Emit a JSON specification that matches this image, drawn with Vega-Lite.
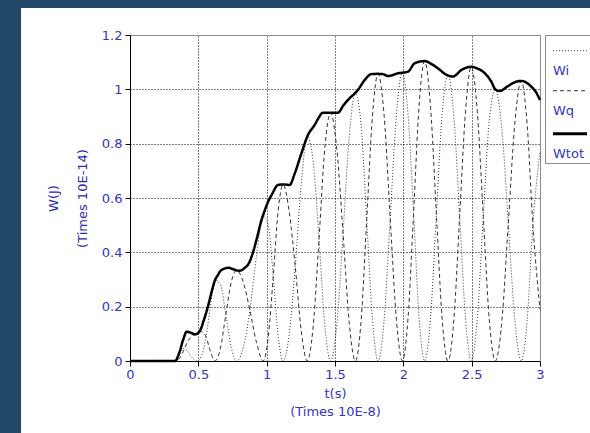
{
  "$schema": "https://vega.github.io/schema/vega-lite/v6.json",
  "width": 569,
  "height": 425,
  "autosize": {"type": "none"},
  "padding": {"left": 21, "top": 8, "right": 0, "bottom": 0},
  "background": "#22486a",
  "config": {
    "view": {"fill": "#ffffff", "stroke": null},
    "font": "DejaVu Sans",
    "legend": {
      "orient": "none",
      "legendX": 524,
      "legendY": 27,
      "padding": 2,
      "strokeColor": "#8c8c8c",
      "fillColor": "#ffffff",
      "symbolType": "M-0.03,-0.81H1.97",
      "symbolSize": 1156,
      "labelOffset": -7,
      "labelBaseline": "top",
      "labelColor": "#3535c0",
      "labelFont": "DejaVu Sans",
      "labelFontSize": 13,
      "rowPadding": 10,
      "titleFontSize": 21,
      "titlePadding": 0
    }
  },
  "datasets": {
    "oscillating": [
      {"t": 0, "W": 0, "series": "Wi"},
      {"t": 0.33, "W": 0, "series": "Wi"},
      {"t": 0.36, "W": 0.022, "series": "Wi"},
      {"t": 0.39, "W": 0.045, "series": "Wi"},
      {"t": 0.42, "W": 0.038, "series": "Wi"},
      {"t": 0.45, "W": 0.015, "series": "Wi"},
      {"t": 0.49, "W": 0, "series": "Wi"},
      {"t": 0.523, "W": 0.019, "series": "Wi"},
      {"t": 0.556, "W": 0.088, "series": "Wi"},
      {"t": 0.589, "W": 0.203, "series": "Wi"},
      {"t": 0.622, "W": 0.298, "series": "Wi"},
      {"t": 0.662, "W": 0.282, "series": "Wi"},
      {"t": 0.701, "W": 0.171, "series": "Wi"},
      {"t": 0.741, "W": 0.05, "series": "Wi"},
      {"t": 0.78, "W": 0, "series": "Wi"},
      {"t": 0.829, "W": 0.05, "series": "Wi"},
      {"t": 0.878, "W": 0.19, "series": "Wi"},
      {"t": 0.926, "W": 0.39, "series": "Wi"},
      {"t": 0.975, "W": 0.535, "series": "Wi"},
      {"t": 1.011, "W": 0.501, "series": "Wi"},
      {"t": 1.048, "W": 0.311, "series": "Wi"},
      {"t": 1.084, "W": 0.095, "series": "Wi"},
      {"t": 1.12, "W": 0, "series": "Wi"},
      {"t": 1.164, "W": 0.095, "series": "Wi"},
      {"t": 1.209, "W": 0.348, "series": "Wi"},
      {"t": 1.253, "W": 0.652, "series": "Wi"},
      {"t": 1.297, "W": 0.825, "series": "Wi"},
      {"t": 1.34, "W": 0.735, "series": "Wi"},
      {"t": 1.383, "W": 0.449, "series": "Wi"},
      {"t": 1.425, "W": 0.133, "series": "Wi"},
      {"t": 1.468, "W": 0, "series": "Wi"},
      {"t": 1.513, "W": 0.133, "series": "Wi"},
      {"t": 1.559, "W": 0.47, "series": "Wi"},
      {"t": 1.604, "W": 0.825, "series": "Wi"},
      {"t": 1.649, "W": 0.988, "series": "Wi"},
      {"t": 1.691, "W": 0.867, "series": "Wi"},
      {"t": 1.732, "W": 0.521, "series": "Wi"},
      {"t": 1.774, "W": 0.154, "series": "Wi"},
      {"t": 1.815, "W": 0, "series": "Wi"},
      {"t": 1.86, "W": 0.154, "series": "Wi"},
      {"t": 1.904, "W": 0.526, "series": "Wi"},
      {"t": 1.949, "W": 0.904, "series": "Wi"},
      {"t": 1.993, "W": 1.062, "series": "Wi"},
      {"t": 2.034, "W": 0.91, "series": "Wi"},
      {"t": 2.075, "W": 0.546, "series": "Wi"},
      {"t": 2.115, "W": 0.161, "series": "Wi"},
      {"t": 2.156, "W": 0, "series": "Wi"},
      {"t": 2.199, "W": 0.16, "series": "Wi"},
      {"t": 2.242, "W": 0.541, "series": "Wi"},
      {"t": 2.284, "W": 0.91, "series": "Wi"},
      {"t": 2.327, "W": 1.052, "series": "Wi"},
      {"t": 2.37, "W": 0.897, "series": "Wi"},
      {"t": 2.412, "W": 0.533, "series": "Wi"},
      {"t": 2.455, "W": 0.157, "series": "Wi"},
      {"t": 2.497, "W": 0, "series": "Wi"},
      {"t": 2.541, "W": 0.157, "series": "Wi"},
      {"t": 2.585, "W": 0.532, "series": "Wi"},
      {"t": 2.629, "W": 0.886, "series": "Wi"},
      {"t": 2.673, "W": 0.998, "series": "Wi"},
      {"t": 2.721, "W": 0.853, "series": "Wi"},
      {"t": 2.768, "W": 0.506, "series": "Wi"},
      {"t": 2.816, "W": 0.15, "series": "Wi"},
      {"t": 2.863, "W": 0, "series": "Wi"},
      {"t": 2.906, "W": 0.149, "series": "Wi"},
      {"t": 2.948, "W": 0.502, "series": "Wi"},
      {"t": 3.0, "W": 0.77, "series": "Wi"},

      {"t": 0, "W": 0, "series": "Wq"},
      {"t": 0.33, "W": 0, "series": "Wq"},
      {"t": 0.36, "W": 0.008, "series": "Wq"},
      {"t": 0.39, "W": 0.035, "series": "Wq"},
      {"t": 0.42, "W": 0.07, "series": "Wq"},
      {"t": 0.45, "W": 0.09, "series": "Wq"},
      {"t": 0.49, "W": 0.103, "series": "Wq"},
      {"t": 0.523, "W": 0.108, "series": "Wq"},
      {"t": 0.556, "W": 0.089, "series": "Wq"},
      {"t": 0.589, "W": 0.035, "series": "Wq"},
      {"t": 0.622, "W": 0, "series": "Wq"},
      {"t": 0.662, "W": 0.048, "series": "Wq"},
      {"t": 0.701, "W": 0.17, "series": "Wq"},
      {"t": 0.741, "W": 0.29, "series": "Wq"},
      {"t": 0.78, "W": 0.334, "series": "Wq"},
      {"t": 0.829, "W": 0.29, "series": "Wq"},
      {"t": 0.878, "W": 0.185, "series": "Wq"},
      {"t": 0.926, "W": 0.067, "series": "Wq"},
      {"t": 0.975, "W": 0, "series": "Wq"},
      {"t": 1.011, "W": 0.086, "series": "Wq"},
      {"t": 1.048, "W": 0.31, "series": "Wq"},
      {"t": 1.084, "W": 0.553, "series": "Wq"},
      {"t": 1.12, "W": 0.65, "series": "Wq"},
      {"t": 1.164, "W": 0.553, "series": "Wq"},
      {"t": 1.209, "W": 0.348, "series": "Wq"},
      {"t": 1.253, "W": 0.111, "series": "Wq"},
      {"t": 1.297, "W": 0, "series": "Wq"},
      {"t": 1.34, "W": 0.126, "series": "Wq"},
      {"t": 1.383, "W": 0.448, "series": "Wq"},
      {"t": 1.425, "W": 0.781, "series": "Wq"},
      {"t": 1.468, "W": 0.914, "series": "Wq"},
      {"t": 1.513, "W": 0.781, "series": "Wq"},
      {"t": 1.559, "W": 0.469, "series": "Wq"},
      {"t": 1.604, "W": 0.141, "series": "Wq"},
      {"t": 1.649, "W": 0, "series": "Wq"},
      {"t": 1.691, "W": 0.148, "series": "Wq"},
      {"t": 1.732, "W": 0.52, "series": "Wq"},
      {"t": 1.774, "W": 0.902, "series": "Wq"},
      {"t": 1.815, "W": 1.057, "series": "Wq"},
      {"t": 1.86, "W": 0.9, "series": "Wq"},
      {"t": 1.904, "W": 0.525, "series": "Wq"},
      {"t": 1.949, "W": 0.154, "series": "Wq"},
      {"t": 1.993, "W": 0, "series": "Wq"},
      {"t": 2.034, "W": 0.155, "series": "Wq"},
      {"t": 2.075, "W": 0.545, "series": "Wq"},
      {"t": 2.115, "W": 0.939, "series": "Wq"},
      {"t": 2.156, "W": 1.104, "series": "Wq"},
      {"t": 2.199, "W": 0.935, "series": "Wq"},
      {"t": 2.242, "W": 0.54, "series": "Wq"},
      {"t": 2.284, "W": 0.155, "series": "Wq"},
      {"t": 2.327, "W": 0, "series": "Wq"},
      {"t": 2.37, "W": 0.153, "series": "Wq"},
      {"t": 2.412, "W": 0.533, "series": "Wq"},
      {"t": 2.455, "W": 0.919, "series": "Wq"},
      {"t": 2.497, "W": 1.083, "series": "Wq"},
      {"t": 2.541, "W": 0.92, "series": "Wq"},
      {"t": 2.585, "W": 0.532, "series": "Wq"},
      {"t": 2.629, "W": 0.151, "series": "Wq"},
      {"t": 2.673, "W": 0, "series": "Wq"},
      {"t": 2.721, "W": 0.146, "series": "Wq"},
      {"t": 2.768, "W": 0.506, "series": "Wq"},
      {"t": 2.816, "W": 0.876, "series": "Wq"},
      {"t": 2.863, "W": 1.031, "series": "Wq"},
      {"t": 2.906, "W": 0.87, "series": "Wq"},
      {"t": 2.948, "W": 0.501, "series": "Wq"},
      {"t": 3.0, "W": 0.19, "series": "Wq"}
    ],
    "total": [
      {"t": 0, "W": 0, "series": "Wtot"},
      {"t": 0.33, "W": 0, "series": "Wtot"},
      {"t": 0.36, "W": 0.03, "series": "Wtot"},
      {"t": 0.39, "W": 0.08, "series": "Wtot"},
      {"t": 0.415, "W": 0.108, "series": "Wtot"},
      {"t": 0.445, "W": 0.104, "series": "Wtot"},
      {"t": 0.476, "W": 0.098, "series": "Wtot"},
      {"t": 0.51, "W": 0.11, "series": "Wtot"},
      {"t": 0.54, "W": 0.15, "series": "Wtot"},
      {"t": 0.573, "W": 0.206, "series": "Wtot"},
      {"t": 0.6, "W": 0.26, "series": "Wtot"},
      {"t": 0.622, "W": 0.298, "series": "Wtot"},
      {"t": 0.644, "W": 0.317, "series": "Wtot"},
      {"t": 0.658, "W": 0.329, "series": "Wtot"},
      {"t": 0.69, "W": 0.34, "series": "Wtot"},
      {"t": 0.72, "W": 0.343, "series": "Wtot"},
      {"t": 0.76, "W": 0.337, "series": "Wtot"},
      {"t": 0.8, "W": 0.332, "series": "Wtot"},
      {"t": 0.84, "W": 0.343, "series": "Wtot"},
      {"t": 0.87, "W": 0.36, "series": "Wtot"},
      {"t": 0.9, "W": 0.4, "series": "Wtot"},
      {"t": 0.93, "W": 0.455, "series": "Wtot"},
      {"t": 0.96, "W": 0.515, "series": "Wtot"},
      {"t": 0.985, "W": 0.553, "series": "Wtot"},
      {"t": 1.01, "W": 0.586, "series": "Wtot"},
      {"t": 1.04, "W": 0.615, "series": "Wtot"},
      {"t": 1.083, "W": 0.648, "series": "Wtot"},
      {"t": 1.12, "W": 0.65, "series": "Wtot"},
      {"t": 1.168, "W": 0.648, "series": "Wtot"},
      {"t": 1.205, "W": 0.69, "series": "Wtot"},
      {"t": 1.254, "W": 0.764, "series": "Wtot"},
      {"t": 1.302, "W": 0.832, "series": "Wtot"},
      {"t": 1.351, "W": 0.869, "series": "Wtot"},
      {"t": 1.38, "W": 0.895, "series": "Wtot"},
      {"t": 1.412, "W": 0.914, "series": "Wtot"},
      {"t": 1.47, "W": 0.914, "series": "Wtot"},
      {"t": 1.522, "W": 0.914, "series": "Wtot"},
      {"t": 1.56, "W": 0.94, "series": "Wtot"},
      {"t": 1.595, "W": 0.961, "series": "Wtot"},
      {"t": 1.668, "W": 0.998, "series": "Wtot"},
      {"t": 1.717, "W": 1.034, "series": "Wtot"},
      {"t": 1.766, "W": 1.056, "series": "Wtot"},
      {"t": 1.81, "W": 1.057, "series": "Wtot"},
      {"t": 1.851, "W": 1.056, "series": "Wtot"},
      {"t": 1.888, "W": 1.049, "series": "Wtot"},
      {"t": 1.96, "W": 1.059, "series": "Wtot"},
      {"t": 2.034, "W": 1.065, "series": "Wtot"},
      {"t": 2.083, "W": 1.096, "series": "Wtot"},
      {"t": 2.156, "W": 1.104, "series": "Wtot"},
      {"t": 2.2, "W": 1.095, "series": "Wtot"},
      {"t": 2.254, "W": 1.077, "series": "Wtot"},
      {"t": 2.31, "W": 1.055, "series": "Wtot"},
      {"t": 2.363, "W": 1.047, "series": "Wtot"},
      {"t": 2.424, "W": 1.071, "series": "Wtot"},
      {"t": 2.497, "W": 1.083, "series": "Wtot"},
      {"t": 2.54, "W": 1.077, "series": "Wtot"},
      {"t": 2.583, "W": 1.065, "series": "Wtot"},
      {"t": 2.644, "W": 1.028, "series": "Wtot"},
      {"t": 2.673, "W": 1.0, "series": "Wtot"},
      {"t": 2.705, "W": 0.994, "series": "Wtot"},
      {"t": 2.766, "W": 1.012, "series": "Wtot"},
      {"t": 2.81, "W": 1.025, "series": "Wtot"},
      {"t": 2.863, "W": 1.031, "series": "Wtot"},
      {"t": 2.936, "W": 1.01, "series": "Wtot"},
      {"t": 2.97, "W": 0.99, "series": "Wtot"},
      {"t": 3.0, "W": 0.961, "series": "Wtot"}
    ]
  },
  "layer": [
    {
      "data": {"name": "oscillating"},
      "mark": {"type": "line", "interpolate": "monotone"},
      "encoding": {
        "x": {
          "field": "t",
          "type": "quantitative",
          "scale": {"domain": [0, 3], "range": [109, 519], "nice": false},
          "axis": {
            "orient": "bottom",
            "offset": -72,
            "values": [0, 0.5, 1, 1.5, 2, 2.5, 3],
            "format": "~g",
            "labelFlush": false,
            "labelOverlap": false,
            "grid": false,
            "domainColor": "#000000",
            "domainWidth": 1,
            "tickColor": "#000000",
            "tickSize": 5,
            "labelColor": "#3535c0",
            "labelFont": "DejaVu Sans",
            "labelFontSize": 13,
            "labelPadding": 2,
            "title": ["t(s)", "(Times 10E-8)"],
            "titleColor": "#3535c0",
            "titleFont": "DejaVu Sans",
            "titleFontSize": 13,
            "titleFontWeight": "normal",
            "titleLineHeight": 18,
            "titlePadding": 6
          }
        },
        "y": {
          "field": "W",
          "type": "quantitative",
          "scale": {"domain": [0, 1.2], "range": [353, 27], "nice": false, "zero": false},
          "axis": {
            "orient": "left",
            "offset": -109,
            "values": [0, 0.2, 0.4, 0.6, 0.8, 1, 1.2],
            "format": "~g",
            "labelOverlap": false,
            "grid": true,
            "gridColor": "#000000",
            "gridDash": [1, 2],
            "gridWidth": 1,
            "gridOpacity": 1,
            "domainColor": "#000000",
            "domainWidth": 1,
            "tickColor": "#000000",
            "tickSize": 5,
            "labelColor": "#3535c0",
            "labelFont": "DejaVu Sans",
            "labelFontSize": 13,
            "labelPadding": 3,
            "title": ["W(J)", "(Times 10E-14)"],
            "titleColor": "#2a2ab0",
            "titleFont": "DejaVu Sans",
            "titleFontSize": 13,
            "titleFontWeight": "normal",
            "titleLineHeight": 29,
            "titlePadding": 12
          }
        },
        "strokeDash": {
          "field": "series",
          "type": "nominal",
          "scale": {"domain": ["Wi", "Wq", "Wtot"], "range": [[1, 2], [4, 3], [1, 0]]},
          "legend": {
            "title": " ",
            "symbolStrokeWidth": {"expr": "datum.value === 'Wtot' ? 2.8 : 1"}
          }
        },
        "strokeWidth": {
          "field": "series",
          "type": "nominal",
          "scale": {"type": "ordinal", "domain": ["Wi", "Wq", "Wtot"], "range": [1, 1, 2.8]},
          "legend": null
        },
        "color": {
          "field": "series",
          "type": "nominal",
          "scale": {"domain": ["Wi", "Wq", "Wtot"], "range": ["#333333", "#333333", "#000000"]},
          "legend": {
            "title": " ",
            "symbolStrokeWidth": {"expr": "datum.value === 'Wtot' ? 2.8 : 1"}
          }
        }
      }
    },
    {
      "data": {"name": "total"},
      "mark": {"type": "line", "interpolate": "monotone"},
      "encoding": {
        "x": {
          "field": "t",
          "type": "quantitative",
          "scale": {"domain": [0, 3], "range": [109, 519], "nice": false},
          "axis": {
            "orient": "top",
            "offset": -27,
            "values": [0, 0.5, 1, 1.5, 2, 2.5, 3],
            "labels": false,
            "ticks": false,
            "grid": true,
            "gridColor": "#000000",
            "gridDash": [1, 2],
            "gridWidth": 1,
            "gridOpacity": 1,
            "domainColor": "#8c8c8c",
            "title": null
          }
        },
        "y": {
          "field": "W",
          "type": "quantitative",
          "scale": {"domain": [0, 1.2], "range": [353, 27], "nice": false, "zero": false},
          "axis": {
            "orient": "right",
            "offset": -50,
            "labels": false,
            "ticks": false,
            "grid": false,
            "domainColor": "#8c8c8c",
            "title": null
          }
        },
        "strokeDash": {"field": "series", "type": "nominal", "legend": {"title": " "}},
        "strokeWidth": {"field": "series", "type": "nominal", "legend": null},
        "color": {"field": "series", "type": "nominal", "legend": {"title": " "}}
      }
    }
  ],
  "resolve": {"axis": {"x": "independent", "y": "independent"}}
}
